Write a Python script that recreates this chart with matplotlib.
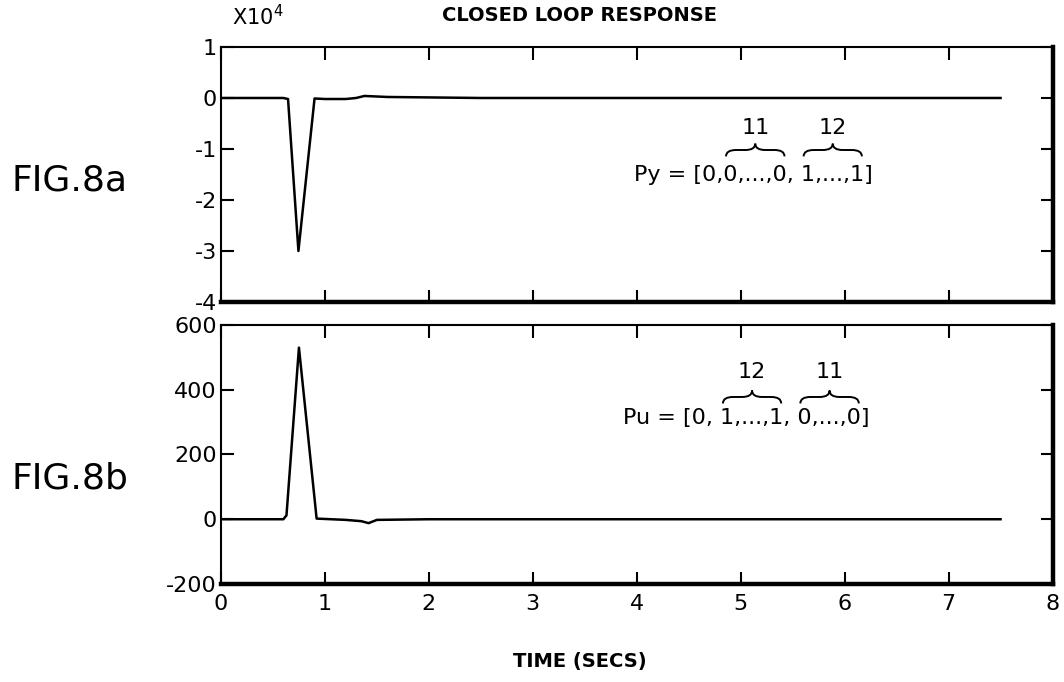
# closed loop response, fig 8a / 8b

import matplotlib.pyplot as plt
from matplotlib.path import Path
from matplotlib.patches import PathPatch


# reponse de y (x10^4)
T_Y = [0.0, 0.6, 0.645, 0.745, 0.9, 1.0, 1.2, 1.3, 1.38, 1.6, 2.5, 7.5]
Y_RESP = [0.0, 0.0, -0.02, -3.0, -0.01, -0.02, -0.02, 0.0, 0.04, 0.02, 0.0, 0.0]

# reponse de u
T_U = [0.0, 0.6, 0.63, 0.75, 0.92, 1.2, 1.35, 1.42, 1.5, 2.0, 7.5]
U_RESP = [0.0, 0.0, 12.0, 530.0, 2.0, -2.0, -6.0, -12.0, -2.0, 0.0, 0.0]

X_TICKS = [0, 1, 2, 3, 4, 5, 6, 7, 8]
Y_TICKS_A = [-4, -3, -2, -1, 0, 1]
Y_TICKS_B = [-200, 0, 200, 400, 600]

# texte decoupe en morceaux, les morceaux avec un compte ont une accolade
PY_PARTS = [("Py = [0,", None), ("0,...,0", "11"), (", ", None), ("1,...,1", "12"), ("]", None)]
PU_PARTS = [("Pu = [0, ", None), ("1,...,1", "12"), (", ", None), ("0,...,0", "11"), ("]", None)]

plt.rcParams["axes.unicode_minus"] = False


def style_axes(ax):
    ax.tick_params(direction="in", length=9, width=1.5, top=True, right=True,
                   labelsize=16)
    ax.tick_params(axis="x", pad=7)
    ax.tick_params(axis="y", pad=3)
    for side in ["top", "left"]:
        ax.spines[side].set_linewidth(1.5)
    for side in ["bottom", "right"]:
        ax.spines[side].set_linewidth(3.2)
    ax.set_xlim(0, 8)
    ax.set_xticks(X_TICKS)


# accolade horizontale au dessus d'un texte (coordonnees axes)
def brace(ax, x0, x1, y, h=0.025):
    xm = (x0 + x1) / 2
    d = 0.012
    verts = [(x0, y - h), (x0, y), (x0 + d, y),
             (xm - d, y), (xm, y), (xm, y + h),
             (xm, y), (xm + d, y),
             (x1 - d, y), (x1, y), (x1, y - h)]
    codes = [Path.MOVETO, Path.CURVE3, Path.CURVE3,
             Path.LINETO, Path.CURVE3, Path.CURVE3,
             Path.CURVE3, Path.CURVE3,
             Path.LINETO, Path.CURVE3, Path.CURVE3]
    ax.add_patch(PathPatch(Path(verts, codes), transform=ax.transAxes,
                           fill=False, lw=1.4, color="black", clip_on=False))


def text_width(fig, ax, s, size):
    renderer = fig.canvas.get_renderer()
    t = ax.text(0, 0, s, fontsize=size, transform=ax.transAxes)
    w = t.get_window_extent(renderer).width
    t.remove()
    return w / ax.get_window_extent(renderer).width


def braced_text(fig, ax, parts, x, y, size, dy_brace, dy_count):
    full = "".join(p[0] for p in parts)
    ax.text(x, y, full, transform=ax.transAxes, ha="left", va="center", fontsize=size)
    prefix = ""
    for s, count in parts:
        if count is not None:
            x0 = x + text_width(fig, ax, prefix, size) if prefix else x
            x1 = x + text_width(fig, ax, prefix + s, size)
            x0 += 0.003
            x1 -= 0.003
            brace(ax, x0, x1, y + dy_brace)
            ax.text((x0 + x1) / 2, y + dy_count, count, transform=ax.transAxes,
                    ha="center", va="center", fontsize=size)
        prefix += s


def main():
    fig = plt.figure(figsize=(10.64, 6.82), dpi=100)
    ax_a = fig.add_axes([0.2077, 0.5572, 0.7815, 0.3739])
    ax_b = fig.add_axes([0.2077, 0.1437, 0.7815, 0.3798])

    ax_a.plot(T_Y, Y_RESP, color="black", lw=1.8)
    ax_a.set_ylim(-4, 1)
    ax_a.set_yticks(Y_TICKS_A)
    style_axes(ax_a)
    ax_a.set_xticklabels([])

    ax_b.plot(T_U, U_RESP, color="black", lw=1.8)
    ax_b.set_ylim(-200, 600)
    ax_b.set_yticks(Y_TICKS_B)
    style_axes(ax_b)

    fig.text(0.545, 0.978, "CLOSED LOOP RESPONSE", ha="center", va="center",
             fontsize=14, fontweight="bold")
    fig.text(0.545, 0.030, "TIME (SECS)", ha="center", va="center",
             fontsize=14, fontweight="bold")
    fig.text(0.218, 0.975, "X10$^4$", ha="left", va="center", fontsize=15)
    fig.text(0.011, 0.735, "FIG.8a", ha="left", va="center", fontsize=26)
    fig.text(0.011, 0.298, "FIG.8b", ha="left", va="center", fontsize=26)

    # annotations Py / Pu
    braced_text(fig, ax_a, PY_PARTS, 0.497, 0.498, 16, 0.098, 0.184)
    braced_text(fig, ax_b, PU_PARTS, 0.484, 0.641, 16, 0.081, 0.176)

    fig.savefig("out.png", dpi=100)


if __name__ == "__main__":
    main()
